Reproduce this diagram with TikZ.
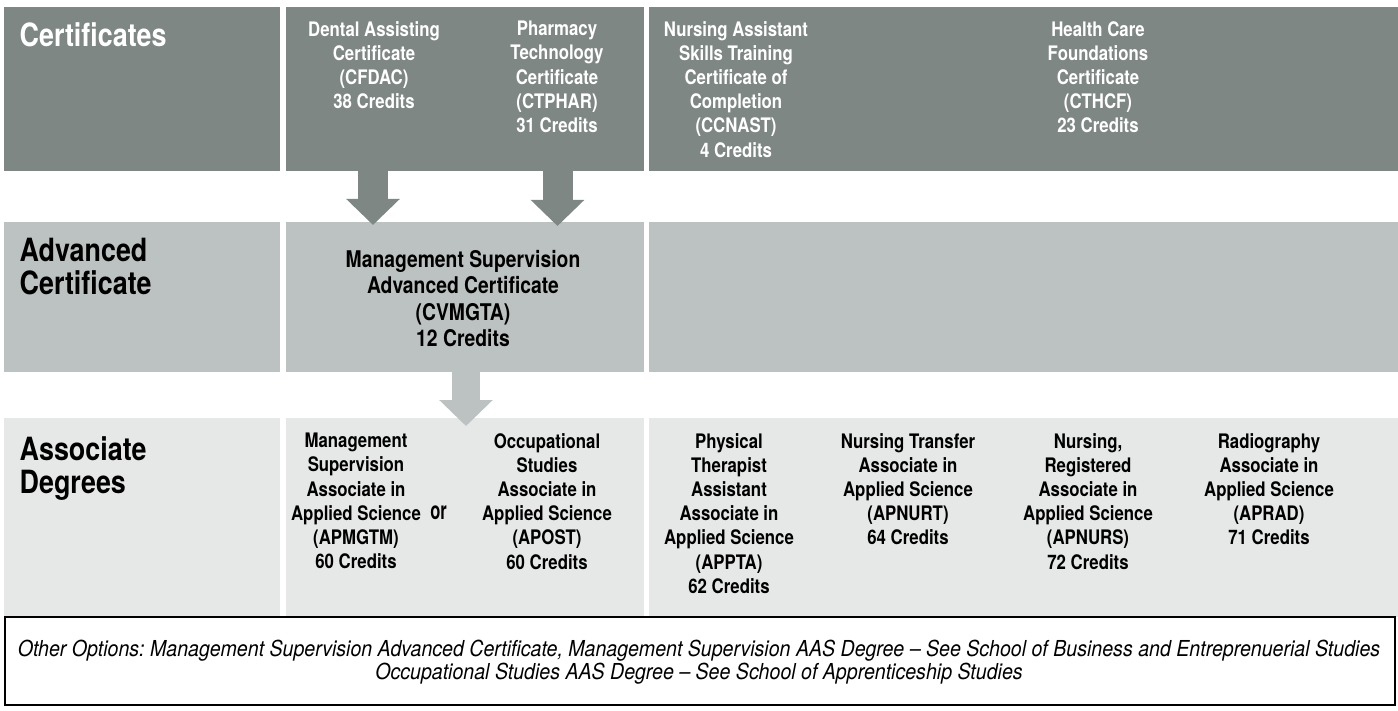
\documentclass[tikz,border=0pt]{standalone}
\usepackage{fontspec}
\setmainfont{TeX Gyre Heros}[FakeStretch=0.84]
\newfontfamily\footfont{TeX Gyre Heros}[FakeStretch=0.89]
\newfontfamily\orfont{TeX Gyre Heros}[FakeStretch=0.66]
\usetikzlibrary{arrows.meta}
\definecolor{dk}{RGB}{127,135,133}
\definecolor{md}{RGB}{188,194,193}
\definecolor{lt}{RGB}{230,232,231}
\tikzset{
  band/.style={draw=none, inner sep=0pt, outer sep=0pt, anchor=north west},
  hd/.style={anchor=north west, inner sep=0pt, align=left, font=\fontsize{32}{33}\selectfont\bfseries},
  tx/.style={anchor=north, inner sep=0pt, align=center, font=\fontsize{20}{24.2}\selectfont\bfseries},
  txadv/.style={anchor=north, inner sep=0pt, align=center, font=\fontsize{23}{26.5}\selectfont\bfseries},
  fatarrow/.style={line width=30pt, -{Triangle[width=52pt,length=26pt]}},
}
\begin{document}
\frenchspacing
\begin{tikzpicture}[x=1pt, y=-1pt]
\useasboundingbox (0,0) rectangle (1398,711);
\fill[white] (0,0) rectangle (1398,711);
% row 1
\node[band, fill=dk, minimum width=276pt, minimum height=164pt] (r1a) at (4,7) {};
\node[band, fill=dk, minimum width=358pt, minimum height=164pt] (r1b) at (286,7) {};
\node[band, fill=dk, minimum width=749pt, minimum height=164pt] (r1c) at (649,7) {};
% row 2
\node[band, fill=md, minimum width=276pt, minimum height=150pt] (r2a) at (4,222) {};
\node[band, fill=md, minimum width=358pt, minimum height=150pt] (r2b) at (286,222) {};
\node[band, fill=md, minimum width=749pt, minimum height=150pt] (r2c) at (649,222) {};
% row 3
\node[band, fill=lt, minimum width=276pt, minimum height=199pt] (r3a) at (4,418) {};
\node[band, fill=lt, minimum width=358pt, minimum height=199pt] (r3b) at (286,418) {};
\node[band, fill=lt, minimum width=749pt, minimum height=199pt] (r3c) at (649,418) {};
% note box
\node[band, fill=white, draw=black, line width=1.2pt, minimum width=1390pt, minimum height=88pt] (note) at (5,617) {};

% headings
\node[hd, text=white] (h1) at (19.5,22) {Certificates};
\node[hd, text=black] (h2) at (19.5,238) {Advanced\\Certificate};
\node[hd, text=black] (h3) at (19.5,436) {Associate\\Degrees};

% certificates
\node[tx, text=white] (cfdac) at (374,21) {Dental Assisting\\Certificate\\(CFDAC)\\38 Credits};
\node[tx, text=white] (ctphar) at (557,21) {Pharmacy\\Technology\\Certificate\\(CTPHAR)\\31 Credits};
\node[tx, text=white] (ccnast) at (736,21) {Nursing Assistant\\Skills Training\\Certificate of\\Completion\\(CCNAST)\\4 Credits};
\node[tx, text=white] (cthcf) at (1098,21) {Health Care\\Foundations\\Certificate\\(CTHCF)\\23 Credits};

% advanced
\node[txadv] (cvmgta) at (463,250) {Management Supervision\\Advanced Certificate\\(CVMGTA)\\12 Credits};

% associate
\node[tx] (apmgtm) at (356,433) {Management\\Supervision\\Associate in\\Applied Science\\(APMGTM)\\60 Credits};
\node[anchor=base, font=\orfont\fontsize{25}{25}\selectfont\bfseries, inner sep=0pt] (or) at (438.5,519) {or};
\node[tx] (apost) at (547,433) {Occupational\\Studies\\Associate in\\Applied Science\\(APOST)\\60 Credits};
\node[tx] (appta) at (729,433) {Physical\\Therapist\\Assistant\\Associate in\\Applied Science\\(APPTA)\\62 Credits};
\node[tx] (apnurt) at (908,433) {Nursing Transfer\\Associate in\\Applied Science\\(APNURT)\\64 Credits};
\node[tx] (apnurs) at (1088,433) {Nursing,\\Registered\\Associate in\\Applied Science\\(APNURS)\\72 Credits};
\node[tx] (aprad) at (1269,433) {Radiography\\Associate in\\Applied Science\\(APRAD)\\71 Credits};

% note text
\node[inner sep=0pt, align=center, font=\footfont\fontsize{22}{23.5}\selectfont\itshape] (notetext) at (699,662)
  {Other Options: Management Supervision Advanced Certificate, Management Supervision AAS Degree – See School of Business and Entreprenuerial Studies\\
   Occupational Studies AAS Degree – See School of Apprenticeship Studies};

% arrows
\coordinate (a1s) at (373,171);
\coordinate (a1e) at (373,225);
\coordinate (a2s) at (557.5,171);
\coordinate (a2e) at (557.5,226);
\coordinate (a3s) at (466,372);
\coordinate (a3e) at (466,426);
\draw[fatarrow, draw=dk, fill=dk] (a1s) -- (a1e);
\draw[fatarrow, draw=dk, fill=dk] (a2s) -- (a2e);
\draw[fatarrow, line width=28pt, draw=md, fill=md] (a3s) -- (a3e);
\end{tikzpicture}
\end{document}
